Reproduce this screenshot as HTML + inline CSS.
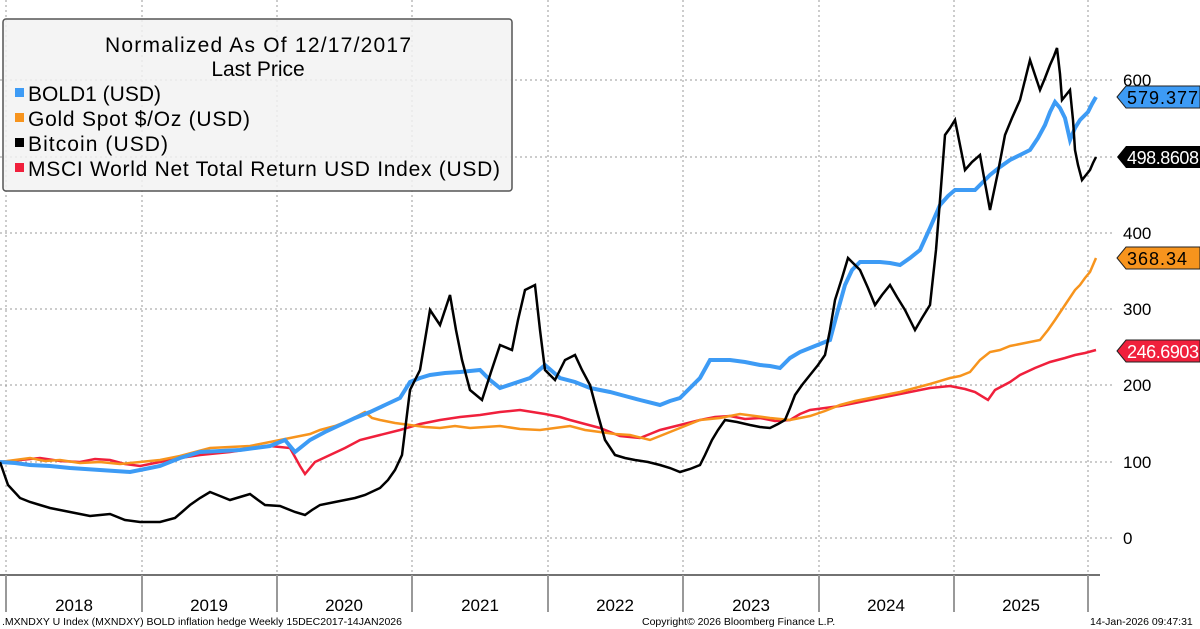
<!DOCTYPE html>
<html><head><meta charset="utf-8"><style>
html,body{margin:0;padding:0;background:#fff;}
svg{display:block;font-family:"Liberation Sans","DejaVu Sans",sans-serif;}
</style></head><body>
<svg width="1200" height="629" viewBox="0 0 1200 629" xmlns="http://www.w3.org/2000/svg">
<rect width="1200" height="629" fill="#fff"/>
<g stroke="#999" stroke-width="1" stroke-dasharray="2,3">
<line x1="0" y1="80" x2="1113" y2="80"/>
<line x1="0" y1="157" x2="1113" y2="157"/>
<line x1="0" y1="233" x2="1113" y2="233"/>
<line x1="0" y1="309" x2="1113" y2="309"/>
<line x1="0" y1="385" x2="1113" y2="385"/>
<line x1="0" y1="462" x2="1113" y2="462"/>
<line x1="0" y1="538" x2="1113" y2="538"/>
<line x1="6" y1="0" x2="6" y2="575"/>
<line x1="142" y1="0" x2="142" y2="575"/>
<line x1="277" y1="0" x2="277" y2="575"/>
<line x1="412" y1="0" x2="412" y2="575"/>
<line x1="548" y1="0" x2="548" y2="575"/>
<line x1="683" y1="0" x2="683" y2="575"/>
<line x1="819" y1="0" x2="819" y2="575"/>
<line x1="954" y1="0" x2="954" y2="575"/>
<line x1="1088" y1="0" x2="1088" y2="575"/>
</g>
<line x1="0" y1="575" x2="1100" y2="575" stroke="#444" stroke-width="1.5"/>
<g stroke="#999" stroke-width="2">
<line x1="6" y1="575" x2="6" y2="612"/><line x1="142" y1="575" x2="142" y2="612"/><line x1="277" y1="575" x2="277" y2="612"/><line x1="412" y1="575" x2="412" y2="612"/><line x1="548" y1="575" x2="548" y2="612"/><line x1="683" y1="575" x2="683" y2="612"/><line x1="819" y1="575" x2="819" y2="612"/><line x1="954" y1="575" x2="954" y2="612"/><line x1="1088" y1="575" x2="1088" y2="612"/>
</g>
<g font-size="17" fill="#000" text-anchor="middle">
<text x="74" y="611">2018</text><text x="209" y="611">2019</text><text x="344" y="611">2020</text><text x="480" y="611">2021</text><text x="615" y="611">2022</text><text x="751" y="611">2023</text><text x="886" y="611">2024</text><text x="1021" y="611">2025</text>
</g>
<g font-size="17" fill="#000">
<text x="1123" y="86">600</text><text x="1123" y="239">400</text><text x="1123" y="315">300</text><text x="1123" y="391">200</text><text x="1123" y="468">100</text><text x="1123" y="544">0</text>
</g>
<!-- MSCI -->
<polyline fill="none" stroke="#f0203c" stroke-width="2.5" points="0,462 20,460 40,458 60,461 80,462 95,459 110,460 125,464 140,466 160,462 180,458 200,455 230,452 250,449 270,446 290,448 300,466 305,474 315,462 330,455 345,448 360,440 380,435 400,430 420,424 440,420 460,417 480,415 500,412 520,410 545,414 560,417 570,420 585,424 600,428 620,436 640,438 650,434 660,430 680,425 700,420 715,417 730,416 745,419 760,418 775,421 790,420 800,414 810,410 825,408 840,406 855,403 870,400 885,397 900,394 915,391 930,388 950,386 965,389 975,392 988,400 995,390 1010,382 1020,375 1035,368 1050,362 1065,358 1075,355 1085,353 1096,350"/>
<!-- Gold -->
<polyline fill="none" stroke="#f7941d" stroke-width="2.5" points="0,462 15,460 30,458 45,461 60,460 80,463 100,462 120,464 140,462 160,460 180,456 195,452 210,448 230,447 250,446 265,443 280,440 300,436 310,434 320,430 335,426 350,420 365,412 372,418 380,420 395,423 410,425 425,427 440,428 455,426 470,428 485,427 500,426 520,429 540,430 555,428 570,426 585,430 600,432 615,434 630,435 650,440 660,436 670,432 685,426 700,420 720,418 740,414 755,416 770,418 790,420 800,418 810,416 825,411 840,405 855,401 870,398 885,395 900,392 915,388 930,384 950,378 960,376 970,372 980,360 990,352 1000,350 1010,346 1025,343 1040,340 1048,330 1055,320 1065,305 1075,290 1080,285 1085,278 1090,272 1096,258"/>
<!-- BOLD1 -->
<polyline fill="none" stroke="#3d9bf5" stroke-width="4" points="0,462 15,463 30,465 50,466 70,468 85,469 100,470 115,471 130,472 145,469 160,466 180,458 200,452 220,451 240,450 255,448 270,446 285,440 295,452 310,440 325,432 340,425 355,418 370,412 385,405 400,398 410,382 420,378 430,375 445,373 460,372 470,371 480,370 490,380 500,388 515,383 530,378 545,365 560,378 575,382 590,388 600,390 610,392 625,396 640,400 660,405 670,401 680,398 690,388 700,378 710,360 720,360 730,360 745,362 760,365 770,366 780,368 790,358 800,352 815,346 830,340 838,310 845,285 852,270 860,262 870,262 880,262 890,263 900,265 910,258 920,250 930,228 940,205 948,196 955,190 965,190 975,190 983,182 990,175 1000,167 1010,160 1020,155 1030,150 1038,138 1045,125 1050,112 1055,102 1060,108 1065,118 1070,140 1075,128 1080,120 1084,116 1088,112 1092,104 1096,97"/>
<!-- Bitcoin -->
<polyline fill="none" stroke="#000" stroke-width="2.5" points="0,462 8,485 20,498 30,502 40,505 50,508 60,510 75,513 90,516 100,515 110,514 125,520 140,522 160,522 175,518 182,512 190,505 200,498 210,492 220,496 230,500 240,497 250,494 258,500 265,505 280,506 295,512 305,515 312,510 320,505 335,502 345,500 355,498 365,495 380,488 388,480 395,470 402,455 410,390 420,370 430,310 440,325 450,295 456,330 462,360 470,390 482,400 491,372 500,345 512,350 518,320 525,290 535,285 540,330 545,370 555,380 565,360 575,355 582,370 590,385 598,415 605,440 615,455 625,458 635,460 648,462 660,465 670,468 680,472 690,469 700,465 705,455 712,440 718,430 725,420 737,422 750,425 760,427 770,428 778,424 785,420 790,408 795,395 802,385 810,375 818,365 825,355 830,330 835,300 842,278 848,258 854,264 860,270 868,288 875,305 882,295 890,285 897,297 905,310 915,330 922,318 930,305 936,250 940,200 945,135 950,128 955,120 960,145 965,170 972,162 980,155 985,183 990,210 998,172 1005,135 1012,118 1020,100 1025,80 1030,60 1035,75 1040,90 1045,78 1050,65 1054,56 1057,48 1060,74 1062,100 1066,95 1070,90 1073,120 1075,150 1078,165 1082,180 1086,175 1090,170 1093,163 1096,157"/>
<!-- value tags -->
<g font-size="18">
<polygon points="1117,97 1126,86 1200,86 1200,108 1126,108" fill="#3d9bf5" stroke="#222"/>
<text x="1127" y="104" fill="#000" textLength="71">579.377</text>
<polygon points="1117,157 1126,146 1200,146 1200,168 1126,168" fill="#000"/>
<text x="1127" y="164" fill="#fff" textLength="72">498.8608</text>
<polygon points="1117,258 1126,247 1200,247 1200,269 1126,269" fill="#f7941d" stroke="#222"/>
<text x="1127" y="265" fill="#000" textLength="60">368.34</text>
<polygon points="1117,351 1126,340 1200,340 1200,362 1126,362" fill="#f0203c" stroke="#222"/>
<text x="1127" y="358" fill="#fff" textLength="72">246.6903</text>
</g>
<!-- legend -->
<rect x="3" y="19" width="509" height="172" rx="3" fill="#f2f2f2" fill-opacity="0.85" stroke="#555" stroke-width="1.5"/>
<g font-size="21" fill="#000">
<text x="258" y="52" text-anchor="middle" textLength="306">Normalized As Of 12/17/2017</text>
<text x="258" y="76" text-anchor="middle">Last Price</text>
<rect x="15" y="88" width="9" height="9" fill="#3d9bf5"/>
<text x="28" y="101" textLength="133">BOLD1 (USD)</text>
<rect x="15" y="113" width="9" height="9" fill="#f7941d"/>
<text x="28" y="126" textLength="222">Gold Spot $/Oz (USD)</text>
<rect x="15" y="138" width="9" height="9" fill="#000"/>
<text x="28" y="151" textLength="140">Bitcoin (USD)</text>
<rect x="15" y="163" width="9" height="9" fill="#f0203c"/>
<text x="28" y="176" textLength="472">MSCI World Net Total Return USD Index (USD)</text>
</g>
<g font-size="10.5" fill="#000">
<text x="2" y="625">.MXNDXY U Index (MXNDXY) BOLD inflation hedge Weekly 15DEC2017-14JAN2026</text>
<text x="642" y="625">Copyright© 2026 Bloomberg Finance L.P.</text>
<text x="1090" y="625">14-Jan-2026 09:47:31</text>
</g>
</svg>
</body></html>
